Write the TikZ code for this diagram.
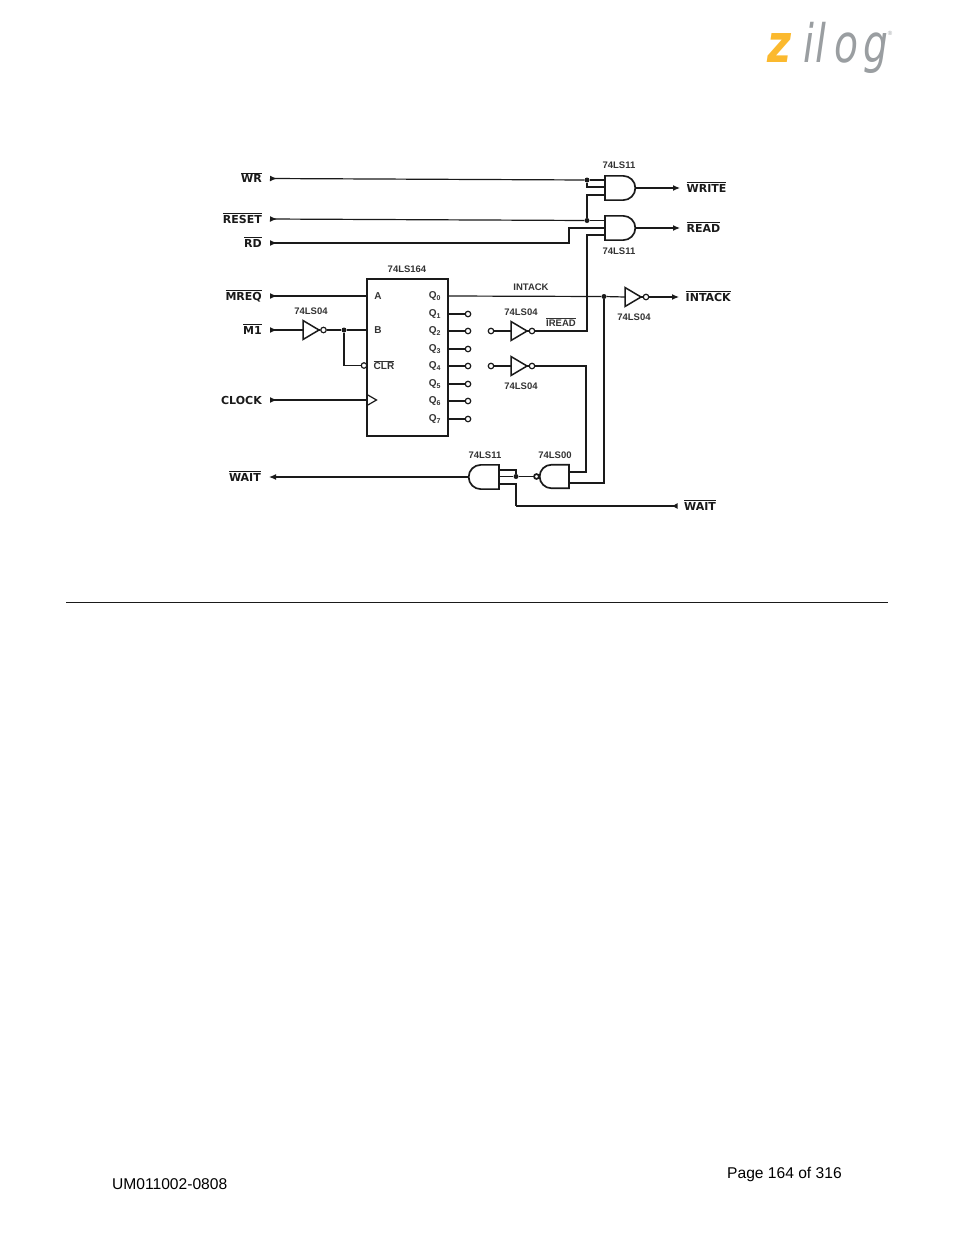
\documentclass[tikz,border=0pt]{standalone}
\usepackage{fontspec}
\setmainfont{Liberation Sans}
\newfontfamily\wide{DejaVu Sans}
\usetikzlibrary{arrows.meta,shapes.geometric,shapes.gates.logic.US}
\definecolor{ink}{HTML}{1A1A1A}
\definecolor{soft}{HTML}{333333}
\definecolor{zyellow}{HTML}{FBB92E}
\definecolor{zgrey}{HTML}{9A9EA1}
\newcommand{\ovl}[1]{$\overline{\mbox{#1}}$}
\tikzset{
  wire/.style={draw=ink,line width=1.2pt},
  arin/.style={wire,{Latex[reversed,length=7pt,width=6pt]}-},
  arout/.style={wire,-{Latex[length=7pt,width=6pt]}},
  arback/.style={wire,-{Latex[reversed,length=6pt,width=6pt]}},
  sig/.style={font=\wide\bfseries\fontsize{11}{13}\selectfont,text=ink,inner sep=0pt,text height=8pt,text depth=0pt},
  sigin/.style={sig,anchor=east,inner xsep=8pt},
  sigout/.style={sig,anchor=west,inner xsep=6.5pt},
  part/.style={font=\bfseries\fontsize{9.5}{11}\selectfont,text=soft,inner sep=0pt},
  pin/.style={font=\bfseries\fontsize{10}{11}\selectfont,text=soft,inner sep=0pt},
  dot/.style={circle,fill=ink,inner sep=0pt,minimum size=5pt},
  term/.style={circle,draw=ink,line width=1.2pt,fill=white,inner sep=0pt,minimum size=5.5pt},
  andg/.style={and gate US,draw=ink,line width=1.7pt,logic gate inputs=nnn,scale=.82,inner sep=0pt,outer sep=0pt},
  nandg/.style={nand gate US,draw=ink,line width=1.7pt,logic gate inputs=nn,logic gate inverted radius=2.8pt,minimum width=29pt,minimum height=24pt,scale=.87,inner sep=0pt,outer sep=0pt},
  invg/.style={isosceles triangle,isosceles triangle stretches,draw=ink,line width=1.5pt,minimum width=19pt,minimum height=16pt,inner sep=0pt,outer sep=0pt,anchor=lower side},
  logo/.style={font=\wide\itshape\fontsize{53}{60}\selectfont,text=zgrey,inner sep=0pt,xscale=.74,anchor=base west},
}
\begin{document}
\begin{tikzpicture}[x=1pt,y=-1pt]
\useasboundingbox (0,0) rectangle (954,1235);
% logo
\node[logo,xscale=1.05,text=zyellow,font=\wide\bfseries\itshape\fontsize{53}{60}\selectfont] (zz) at (767,62) {z};
\node[logo] (zi) at (803,62) {i};
\node[logo] (zl) at (815,62) {l};
\node[logo] (zo) at (834,62) {o};
\node[logo] (zg) at (863,62) {g};
\node[font=\fontsize{6}{7}\selectfont,text=zgrey,inner sep=0pt] (zr) at (890,33) {®};
% signal names
\node[sigin] (wr) at (270,178.5) {\ovl{WR}};
\node[sigin] (reset) at (270,219) {\ovl{RESET}};
\node[sigin] (rd) at (270,243) {\ovl{RD}};
\node[sigin] (mreq) at (270,296) {\ovl{MREQ}};
\node[sigin] (mone) at (270,330) {\ovl{M1}};
\node[sigin] (clock) at (270,400) {CLOCK};
\node[sigin] (wait) at (269,477) {\ovl{WAIT}};
\node[sigout] (write) at (680,188) {\ovl{WRITE}};
\node[sigout] (read) at (680,228) {\ovl{READ}};
\node[sigout] (intackn) at (679,297) {\ovl{INTACK}};
\node[sigout] (waitb) at (677.5,506) {\ovl{WAIT}};
% 74LS164
\node[draw=ink,line width=2.2pt,minimum width=81pt,minimum height=157pt,inner sep=0pt,outer sep=0pt,anchor=north west] (sr) at (367,279) {};
\node[pin] (pa) at (378,296) {A};
\node[pin] (pb) at (378,330) {B};
\node[pin] (pclr) at (384,365.5) {\ovl{CLR}};
\foreach \i/\y in {0/296,1/314,2/331,3/349,4/366,5/384,6/401,7/419}
  \node[pin] (q\i) at (435,\y) {Q\textsubscript{\i}};
\foreach \i in {1,...,7} {
  \node[term] (t\i) at (468,0 |- q\i) {};
  \draw[wire] (sr.east |- q\i) -- (t\i);
}
\coordinate (ck) at (367,400);
\draw[wire] (ck) +(0,-5.5) -- +(9.5,0) -- +(0,5.5);
% gates
\node[andg,anchor=west] (ga) at (605,188) {};
\node[andg,anchor=west] (gb) at (605,228) {};
\node[invg] (ia) at (303,330) {};
\node[invg] (ib) at (511,331) {};
\node[invg] (ic) at (511,366) {};
\node[invg] (id) at (625,297) {};
\node[term] (ba) at (323.5,330) {};
\node[term] (bb) at (532,331) {};
\node[term] (bc) at (532,366) {};
\node[term] (bd) at (646,297) {};
\node[andg,rotate=180,anchor=west] (gc) at (499,477) {};
\node[nandg,rotate=180,anchor=west] (gd) at (569,476.5) {};
\node[part] (la) at (619,165) {74LS11};
\node[part] (lb) at (619,251) {74LS11};
\node[part] (lc) at (311,311) {74LS04};
\node[part] (ld) at (521,312) {74LS04};
\node[part] (le) at (521,386) {74LS04};
\node[part] (lf) at (634,317) {74LS04};
\node[part] (lg) at (485,455) {74LS11};
\node[part] (lh) at (555,455) {74LS00};
\node[part] (lk) at (407,269) {74LS164};
\node[part] (li) at (531,287) {INTACK};
\node[part] (lj) at (561,322) {\ovl{IREAD}};
% junctions and terminals
\node[dot] (dwr) at (587,180) {};
\node[dot] (drst) at (587,220.5) {};
\node[dot] (dm) at (344,330) {};
\node[dot] (dq) at (604,296.5) {};
\node[dot] (dw) at (516,476.5) {};
\node[term] (clrb) at (364,365.5) {};
\node[term] (sb) at (491,331) {};
\node[term] (sc) at (491,366) {};
\coordinate (gab) at (587,187);
\coordinate (gac) at (587,195);
\coordinate (rdb) at (569,243);
\coordinate (rdc) at (569,228);
\coordinate (irb) at (587,235);
\coordinate (icb) at (586,472);
\coordinate (dqb) at (604,483);
\coordinate (gca) at (516,470);
\coordinate (gcc) at (516,484);
\coordinate (wtb) at (516,506);
% connectors
\draw[arin] (wr.east) -- (dwr);
\draw[wire] (dwr) -- (ga.west |- dwr);
\draw[wire] (dwr) -- (gab) -- (ga.west |- gab);
\draw[wire] (drst) -- (gac) -- (ga.west |- gac);
\draw[arin] (reset.east) -- (drst);
\draw[wire] (drst) -- (gb.west |- drst);
\draw[arin] (rd.east) -- (rdb) -- (rdc) -- (gb.west |- rdc);
\draw[wire] (bb) -| (irb) -- (gb.west |- irb);
\draw[arout] (ga.output) -- (write.west);
\draw[arout] (gb.output) -- (read.west);
\draw[arin] (mreq.east) -- (sr.west |- mreq);
\draw[arin] (mone.east) -- (ia.lower side);
\draw[wire] (ia.apex) -- (ba);
\draw[wire] (ba) -- (dm);
\draw[wire] (dm) -- (sr.west |- dm);
\draw[wire] (dm) |- (clrb);
\draw[arin] (clock.east) -- (ck);
\draw[wire] (sr.east |- q0) -- (dq);
\draw[wire] (dq) -- (id.lower side);
\draw[wire] (id.apex) -- (bd);
\draw[arout] (bd) -- (intackn.west);
\draw[wire] (ib.apex) -- (bb);
\draw[wire] (ic.apex) -- (bc);
\draw[wire] (sb) -- (ib.lower side);
\draw[wire] (sc) -- (ic.lower side);
\draw[wire] (bc) -| (icb) -- (gd.west |- icb);
\draw[wire] (dq) -- (dqb) -- (gd.west |- dqb);
\draw[wire] (gd.output) -- (dw);
\draw[wire] (gc.west |- gcc) -- (gcc) -- (wtb);
\draw[wire] (gc.west |- dw) -- (dw);
\draw[wire] (gc.west |- gca) -- (gca) -- (dw);
\draw[arback] (wtb) -- (waitb.west);
\draw[arout] (gc.output) -- (wait.east);
% page furniture
\coordinate (rulea) at (66,602);
\coordinate (ruleb) at (888,602);
\draw[line width=0.8pt,draw=ink] (rulea) -- (ruleb);
\node[font=\fontsize{15.6}{18}\selectfont,inner sep=0pt,anchor=west] (fa) at (112,1184.5) {UM011002-0808};
\node[font=\fontsize{15.6}{18}\selectfont,inner sep=0pt,anchor=west] (fb) at (727,1174) {Page 164 of 316};
\end{tikzpicture}
\end{document}
